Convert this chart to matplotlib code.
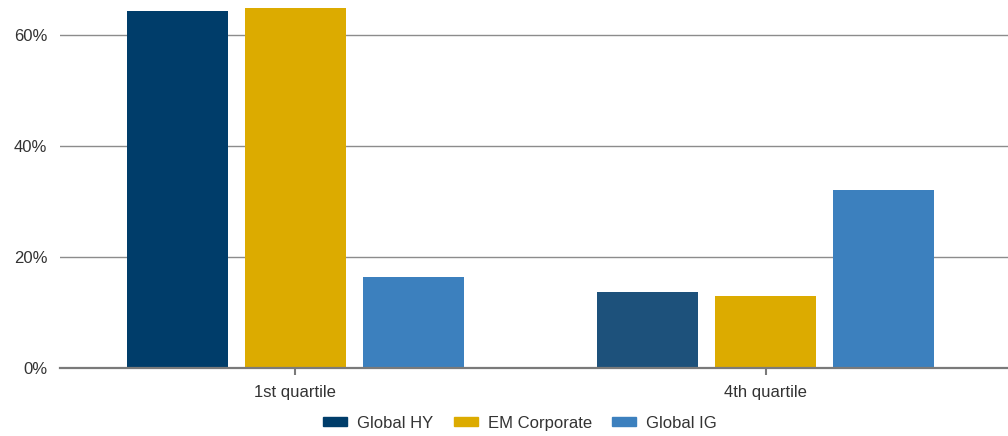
import matplotlib.pyplot as plt
import numpy as np

plt.rcParams["font.family"] = ["Liberation Sans", "DejaVu Sans"]

categories = ["1st quartile", "4th quartile"]
series = ["Global HY", "EM Corporate", "Global IG"]
global_hy = [64.3, 13.7]
em_corporate = [64.9, 13.0]
global_ig = [16.4, 32.1]

colors = ["#003d6a", "#dcab00", "#3c80be"]
hy_colors = ["#003d6a", "#1d517b"]

fig = plt.figure(figsize=(10.08, 4.36), dpi=100)
ax = fig.add_axes([60 / 1008, 1 - 368 / 436, 948 / 1008, 361 / 436])

x = np.arange(len(categories))
width = 0.2147
step = 0.2508

ax.bar(x - step, global_hy, width, color=hy_colors, label=series[0], zorder=3)
ax.bar(x, em_corporate, width, color=colors[1], label=series[1], zorder=3)
ax.bar(x + step, global_ig, width, color=colors[2], label=series[2], zorder=3)

ax.set_xlim(-0.5, 1.515)
ax.set_ylim(0, 65)
ax.set_yticks([0, 20, 40, 60])
ax.set_yticklabels(["0%", "20%", "40%", "60%"])
ax.set_xticks(x)
ax.set_xticklabels(categories)

for side in ["top", "right", "left"]:
    ax.spines[side].set_visible(False)
ax.spines["bottom"].set_color("#7a7a7a")
ax.spines["bottom"].set_linewidth(1.6)
ax.spines["bottom"].set_zorder(4)

ax.yaxis.grid(True, color="#8c8c8c", linewidth=1.0, zorder=0)
ax.tick_params(axis="y", length=0, pad=9, labelsize=12, labelcolor="#333333")
ax.tick_params(axis="x", length=5, width=1.5, color="#7a7a7a", pad=7,
               labelsize=12, labelcolor="#333333")

handles = [plt.Rectangle((0, 0), 1, 1, color=c) for c in colors]
fig.legend(handles, series, loc="center", bbox_to_anchor=(520 / 1008, 1 - 423 / 436),
           ncol=3, frameon=False, fontsize=12, handlelength=1.45, handleheight=0.5,
           columnspacing=1.2, handletextpad=0.6, labelcolor="#333333")

fig.savefig("out.png", dpi=100)
